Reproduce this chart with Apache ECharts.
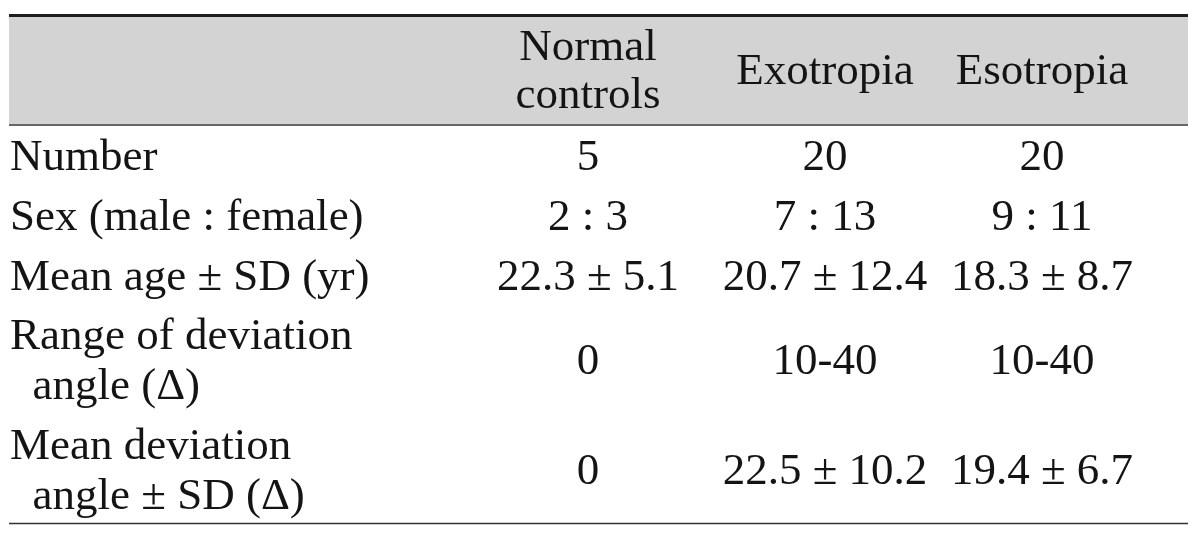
<!DOCTYPE html>
<html>
<head>
<meta charset="utf-8">
<script src="https://cdn.jsdelivr.net/npm/echarts@6/dist/echarts.min.js"></script>
<style>
html,body{margin:0;padding:0;background:#fff;}
#main{width:1200px;height:537px;}
</style>
</head>
<body>
<div id="main"></div>
<script>
// ---- data ----
const columns = ['Normal\ncontrols', 'Exotropia', 'Esotropia'];
const rowLabels = [
  'Number',
  'Sex (male : female)',
  'Mean age \u00b1 SD (yr)',
  'Range of deviation\n\u00a0\u00a0angle (\u0394)',
  'Mean deviation\n\u00a0\u00a0angle \u00b1 SD (\u0394)'
];
const normalControls = ['5', '2 : 3', '22.3 \u00b1 5.1', '0', '0'];
const exotropia = ['20', '7 : 13', '20.7 \u00b1 12.4', '10-40', '22.5 \u00b1 10.2'];
const esotropia = ['20', '9 : 11', '18.3 \u00b1 8.7', '10-40', '19.4 \u00b1 6.7'];

// ---- layout (computed from line counts) ----
const W = 1200, H = 537;
const TABLE_LEFT = 9, TABLE_RIGHT = 1188;
const TOP = 17, HEADER_H = 107, LINE = 50, PAD = 10;
const TEXT_SHIFT = 2;
const colCenters = [588, 825, 1042];
const labelX = 10;
const headerY = TOP + HEADER_H / 2 + TEXT_SHIFT;
const bodyStart = TOP + HEADER_H + 2;
const rowY = [];
let acc = bodyStart;
rowLabels.forEach(function (l) {
  const n = l.split('\n').length;
  const h = n * LINE + PAD;
  rowY.push(acc + h / 2 + TEXT_SHIFT - (n > 1 ? 1 : 0));
  acc += h;
});
const bodyEnd = acc;

const FONT = '"Liberation Serif", "Times New Roman", serif';
const TXT = '#141414';

function textSeries(items, align, lh) {
  return {
    type: 'scatter',
    symbolSize: 0,
    silent: true,
    itemStyle: { opacity: 1 },
    data: items.map(function (it) { return { value: [it.x, it.y], name: it.t }; }),
    label: {
      show: true,
      position: [0, 0],
      align: align,
      verticalAlign: 'middle',
      formatter: function (p) { return p.name; },
      color: TXT,
      opacity: 1,
      fontFamily: FONT,
      fontSize: 45,
      lineHeight: lh
    }
  };
}

const series = [];
// header
series.push(textSeries(columns.map(function (c, i) {
  return { x: colCenters[i], y: headerY, t: c };
}), 'center', 48));
// row labels
series.push(textSeries(rowLabels.map(function (r, i) {
  return { x: labelX, y: rowY[i], t: r };
}), 'left', 50));
// columns
[normalControls, exotropia, esotropia].forEach(function (col, ci) {
  series.push(textSeries(col.map(function (v, ri) {
    return { x: colCenters[ci], y: rowY[ri], t: v };
  }), 'center', 50));
});

const chart = echarts.init(document.getElementById('main'), null, { renderer: 'canvas' });
chart.setOption({
  animation: false,
  backgroundColor: '#ffffff',
  grid: { left: 0, right: 0, top: 0, bottom: 0 },
  xAxis: { type: 'value', min: 0, max: W, show: false },
  yAxis: { type: 'value', min: 0, max: H, inverse: true, show: false },
  series: series
});

// decorative rules and header band positioned via the axes
function px(x, y) { return chart.convertToPixel({ gridIndex: 0 }, [x, y]); }
const a = px(TABLE_LEFT, TOP), b = px(TABLE_RIGHT, TOP + HEADER_H);
const c = px(TABLE_LEFT, bodyEnd - 2.5);
chart.setOption({
  graphic: [
    { type: 'rect', z: -10, shape: { x: a[0], y: a[1], width: b[0] - a[0], height: b[1] - a[1] }, style: { fill: '#d3d3d3' } },
    { type: 'line', shape: { x1: a[0], y1: a[1] - 1.5, x2: b[0], y2: a[1] - 1.5 }, style: { stroke: '#1e1e1e', lineWidth: 3 } },
    { type: 'line', shape: { x1: a[0], y1: b[1] + 1, x2: b[0], y2: b[1] + 1 }, style: { stroke: '#333', lineWidth: 1.6 } },
    { type: 'line', shape: { x1: c[0], y1: c[1], x2: b[0], y2: c[1] }, style: { stroke: '#333', lineWidth: 1.6 } }
  ]
});
</script>
</body>
</html>
